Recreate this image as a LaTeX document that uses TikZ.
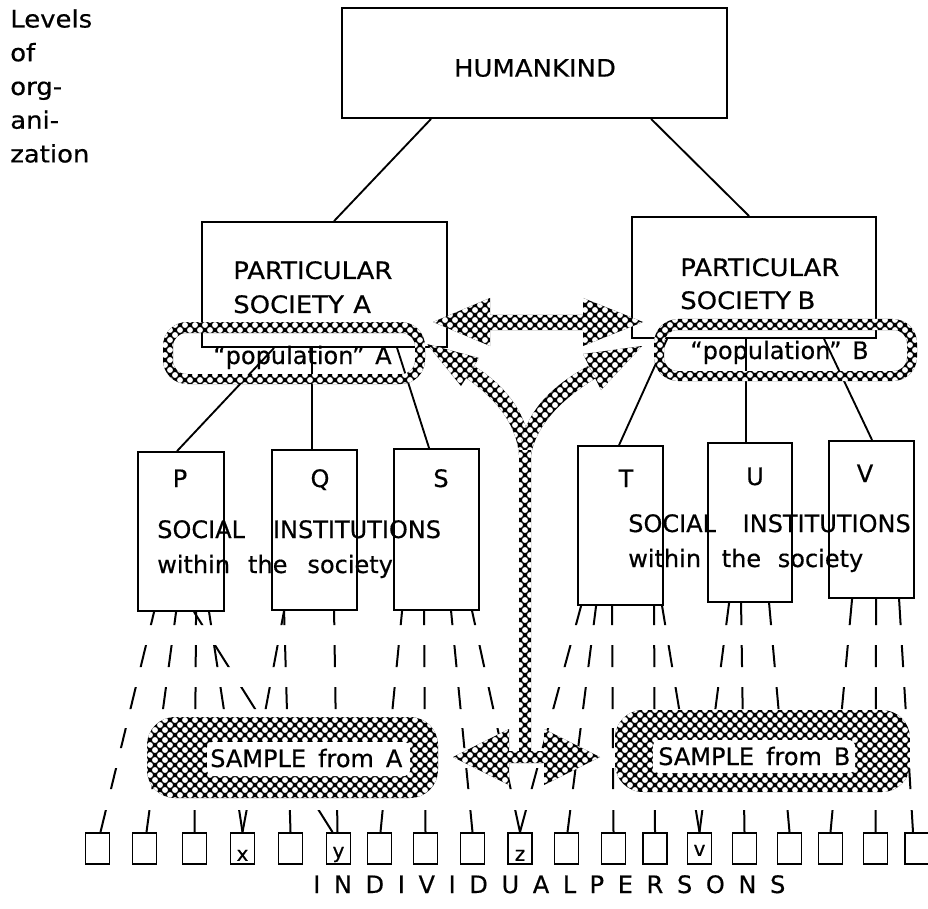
\documentclass[tikz,border=0pt]{standalone}
\usepackage{fontspec}
\setmainfont{DejaVu Sans}[FakeBold=0.5]
\usetikzlibrary{calc}
% black region with white dots in a checker arrangement, on a page-wide grid
\newcommand{\chkregion}[5]{%
  \begin{scope}[even odd rule]
    \clip #1;
    \fill[black] (#2,#3) rectangle (#4,#5);
    \pgfmathtruncatemacro{\chkrows}{((#5)-(#3))/5}%
    \pgfmathtruncatemacro{\chkcols}{((#4)-(#2))/10}%
    \fill[white] \foreach \chkr in {0,...,\chkrows} { \foreach \chkc in {0,...,\chkcols} {
        ({#2+5*mod(\chkr,2)+10*\chkc},{#3+5*\chkr}) circle (2.2pt) } };
  \end{scope}}
\begin{document}
\begin{tikzpicture}[x=0.75pt,y=-0.75pt,
  box/.style={draw,line width=1.4pt,inner sep=0pt},
  lbl/.style={inner sep=0pt,font=\fontsize{18}{25.3}\selectfont},
  biglbl/.style={inner sep=0pt,font=\fontsize{18}{25.3}\selectfont\addfontfeature{FakeStretch=1.08}},
  small/.style={inner sep=0pt,font=\fontsize{15}{18}\selectfont},
  conn/.style={line width=1.4pt},
  tick/.style={line width=1.5pt},
  person/.style={draw,line width=1.3pt,minimum width=18pt,minimum height=23.3pt,inner sep=0pt}
]
\useasboundingbox (0,0) rectangle (928,909);

% ---------- boxes ----------
\node[box,minimum width=385*0.75pt,minimum height=110*0.75pt] (hk) at (534.5,63) {};
\node[box,minimum width=245*0.75pt,minimum height=125*0.75pt] (sa) at (324.5,284.5) {};
\node[box,minimum width=244*0.75pt,minimum height=121*0.75pt] (sb) at (754,277.5) {};
\node[box,minimum width=86*0.75pt,minimum height=159*0.75pt] (p) at (181,531.5) {};
\node[box,minimum width=85*0.75pt,minimum height=160*0.75pt] (q) at (314.5,530) {};
\node[box,minimum width=85*0.75pt,minimum height=161*0.75pt] (s) at (436.5,529.5) {};
\node[box,minimum width=85*0.75pt,minimum height=159*0.75pt] (t) at (620.5,525.5) {};
\node[box,minimum width=84*0.75pt,minimum height=159*0.75pt] (u) at (750,522.5) {};
\node[box,minimum width=85*0.75pt,minimum height=157*0.75pt] (v) at (871.5,519.5) {};

% ---------- solid connectors ----------
\draw[conn] ($(hk.south west)+(90,0)$) -- ($(sa.north west)+(133,0)$);
\draw[conn] ($(hk.south west)+(310,0)$) -- ($(sb.north west)+(118,0)$);
\draw[conn] ($(sa.south west)+(73,0)$) -- ($(p.north west)+(40,0)$);
\draw[conn] ($(sa.south west)+(111,0)$) -- ($(q.north west)+(41,0)$);
\draw[conn] ($(sa.south west)+(196,0)$) -- ($(s.north west)+(36,0)$);
\draw[conn] ($(sb.south west)+(36,0)$) -- ($(t.north west)+(42,0)$);
\draw[conn] ($(sb.south west)+(115,0)$) -- ($(u.north west)+(39,0)$);
\draw[conn] ($(sb.south west)+(193,0)$) -- ($(v.north west)+(44,0)$);

% ---------- individual persons ----------
\foreach \n/\xx in {1/97.5,2/144.5,3/194.5,4/242.5,5/290.5,6/338.5,7/379.5,8/425.5,9/472.5,10/520,
                    11/566.5,12/613.5,13/655,14/699.5,15/744.5,16/789.5,17/830.5,18/875.5,19/917}
  \node[person] (i\n) at (\xx,848.5) {};

% ---------- dashed connectors to persons ----------
\begin{scope}
\clip (0,596) rectangle (928,625) (0,645) rectangle (928,667) (0,687) rectangle (928,709)
      (0,728) rectangle (928,748) (0,768) rectangle (928,789) (0,810) rectangle (928,833);
\draw[tick] ($(p.south west)+(17,0)$) -- ($(i1.north)+(3,0)$);
\draw[tick] ($(p.south west)+(39,0)$) -- ($(i2.north)+(2,0)$);
\draw[tick] ($(p.south west)+(59,0)$) -- (i3.north);
\draw[tick] ($(p.south west)+(72,0)$) -- (i4.north);
\draw[tick] ($(p.south west)+(57,0)$) -- ($(i6.north)+(-6,0)$);
\draw[tick] ($(q.south west)+(13,0)$) -- (i4.north);
\draw[tick] ($(q.south west)+(13,0)$) -- (i5.north);
\draw[tick] ($(q.south west)+(63,0)$) -- ($(i6.north)+(-1,0)$);
\draw[tick] ($(s.south west)+(9,0)$) -- ($(i7.north)+(1,0)$);
\draw[tick] ($(s.south west)+(31,0)$) -- (i8.north);
\draw[tick] ($(s.south west)+(58,0)$) -- (i9.north);
\draw[tick] ($(s.south west)+(79,0)$) -- (i10.north);
\draw[tick] ($(t.south west)+(4,0)$) -- (i10.north);
\draw[tick] ($(t.south west)+(19,0)$) -- ($(i11.north)+(1,0)$);
\draw[tick] ($(t.south west)+(35,0)$) -- (i12.north);
\draw[tick] ($(t.south west)+(77,0)$) -- (i13.north);
\draw[tick] ($(t.south west)+(85,0)$) -- (i14.north);
\draw[tick] ($(u.south west)+(22,0)$) -- (i14.north);
\draw[tick] ($(u.south west)+(34,0)$) -- (i15.north);
\draw[tick] ($(u.south west)+(62,0)$) -- (i16.north);
\draw[tick] ($(v.south west)+(24,0)$) -- (i17.north);
\draw[tick] ($(v.south west)+(48,0)$) -- (i18.north);
\draw[tick] ($(v.south west)+(71,0)$) -- ($(i19.north)+(-4,0)$);
\end{scope}

% ---------- population ovals ----------
\chkregion{[rounded corners=18pt] (163,322) rectangle (425,384) [rounded corners=10pt] (173,333) rectangle (415,374)}{160}{320}{430}{390}
\chkregion{[rounded corners=18pt] (654,319) rectangle (917,381) [rounded corners=10pt] (664,330) rectangle (907,371)}{650}{315}{920}{385}

% ---------- checkered arrows ----------
\chkregion{(433,322) -- (490,298) -- (490,315) -- (583,315) -- (583,298) -- (643,322)
      -- (583,346) -- (583,330) -- (490,330) -- (490,346) -- cycle}{430}{295}{650}{350}
\chkregion{(427,344) -- (479,358) -- (461,386) -- cycle}{420}{340}{480}{390}
\chkregion{(474,366) .. controls (500,382) and (529,410) .. (531,455) -- (519,455)
      .. controls (516,420) and (490,394) .. (466,378) -- cycle}{460}{360}{540}{460}
\chkregion{(642,346) -- (601,390) -- (583,354) -- cycle}{580}{340}{650}{395}
\chkregion{(596,378) .. controls (570,394) and (537,420) .. (531,455) -- (519,455)
      .. controls (524,406) and (560,382) .. (588,366) -- cycle}{510}{360}{600}{460}
\chkregion{(519,450) rectangle (531,757)}{510}{445}{540}{760}
\chkregion{(453,757) -- (509,729) -- (509,751) -- (544,751) -- (544,729) -- (600,757)
      -- (544,785) -- (544,763) -- (509,763) -- (509,785) -- cycle}{450}{725}{610}{790}

% ---------- samples ----------
\chkregion{[rounded corners=21pt] (147,717) rectangle (438,798)}{140}{715}{440}{800}
\fill[white,rounded corners=4pt] (207,742) rectangle (410,776);
\chkregion{[rounded corners=21pt] (615,710) rectangle (910,792)}{610}{705}{910}{795}
\fill[white,rounded corners=4pt] (653,740) rectangle (855,773);

% ---------- texts ----------
\node[biglbl,align=left,anchor=north west] (lev) at (10,9) {Levels\\of\\org-\\ani-\\zation};
\node[biglbl] (thk) at (535,68) {HUMANKIND};
\node[biglbl,anchor=base west] (tsa1) at (233,279) {PARTICULAR};
\node[biglbl,anchor=base west] (tsa2) at (233,313) {SOCIETY\hspace{7pt}A};
\node[biglbl,anchor=base west] (tsb1) at (680,276) {PARTICULAR};
\node[biglbl,anchor=base west] (tsb2) at (680,309) {SOCIETY\hspace{5pt}B};
\node[lbl,anchor=base west] (tpa) at (213,364) {``population''\hspace{8pt}A};
\node[lbl,anchor=base west] (tpb) at (690,359) {``population''\hspace{8pt}B};
\node[lbl,anchor=base] (tp) at (180,487) {P};
\node[lbl,anchor=base] (tq) at (320,487) {Q};
\node[lbl,anchor=base] (ts) at (441,487) {S};
\node[lbl,anchor=base] (tt) at (626,487) {T};
\node[lbl,anchor=base] (tu) at (755,485) {U};
\node[lbl,anchor=base] (tv) at (865,482) {V};
\node[lbl,anchor=base west] (sia1) at (157,538) {SOCIAL\hspace{21pt}INSTITUTIONS};
\node[lbl,anchor=base west] (sia2) at (157,573) {within\hspace{13.5pt}the\hspace{15pt}society};
\node[lbl,anchor=base west] (sib1) at (628,532) {SOCIAL\hspace{20pt}INSTITUTIONS};
\node[lbl,anchor=base west] (sib2) at (628,567) {within\hspace{15.5pt}the\hspace{12.5pt}society};
\node[lbl,anchor=base west] (tsma) at (210,767) {SAMPLE\hspace{9pt}from\hspace{9pt}A};
\node[lbl,anchor=base west] (tsmb) at (658,765) {SAMPLE\hspace{9pt}from\hspace{9pt}B};
\node[small,anchor=base] at ($(i4.south)+(0,-4)$) {x};
\node[small,anchor=base] at ($(i6.south)+(0,-7)$) {y};
\node[small,anchor=base] at ($(i10.south)+(0,-4)$) {z};
\node[small,anchor=base] at ($(i14.south)+(0,-9)$) {v};
\node[lbl,anchor=base west] (tind) at (313,893) {\addfontfeature{LetterSpace=57}INDIVIDUAL\hspace{10pt}PERSONS};
\end{tikzpicture}
\end{document}
